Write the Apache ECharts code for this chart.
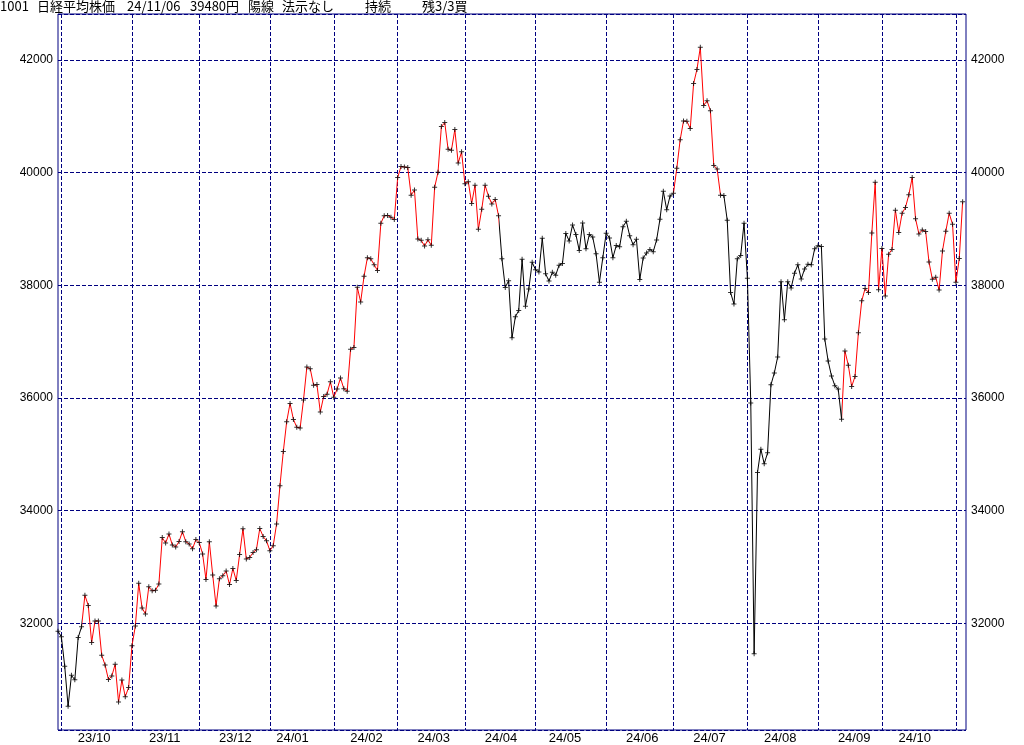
<!DOCTYPE html>
<html>
<head>
<meta charset="utf-8">
<script src="https://cdn.jsdelivr.net/npm/echarts@6/dist/echarts.min.js"></script>
<style>
  html, body { margin: 0; padding: 0; background: #ffffff; }
  #chart { width: 1024px; height: 745px; }
</style>
</head>
<body>
<div id="chart"></div>
<script>
// ---- DATA ----
// Trading days per month (YY/MM, day numbers)
const tradingDays = [
  ["23/09", [29]],
  ["23/10", [2,3,4,5,6,10,11,12,13,16,17,18,19,20,23,24,25,26,27,30,31]],
  ["23/11", [1,2,6,7,8,9,10,13,14,15,16,17,20,21,22,24,27,28,29,30]],
  ["23/12", [1,4,5,6,7,8,11,12,13,14,15,18,19,20,21,22,25,26,27,28,29]],
  ["24/01", [4,5,9,10,11,12,15,16,17,18,19,22,23,24,25,26,29,30,31]],
  ["24/02", [1,2,5,6,7,8,9,13,14,15,16,19,20,21,22,26,27,28,29]],
  ["24/03", [1,4,5,6,7,8,11,12,13,14,15,18,19,21,22,25,26,27,28,29]],
  ["24/04", [1,2,3,4,5,8,9,10,11,12,15,16,17,18,19,22,23,24,25,26,30]],
  ["24/05", [1,2,7,8,9,10,13,14,15,16,17,20,21,22,23,24,27,28,29,30,31]],
  ["24/06", [3,4,5,6,7,10,11,12,13,14,17,18,19,20,21,24,25,26,27,28]],
  ["24/07", [1,2,3,4,5,8,9,10,11,12,16,17,18,19,22,23,24,25,26,29,30,31]],
  ["24/08", [1,2,5,6,7,8,9,13,14,15,16,19,20,21,22,23,26,27,28,29,30]],
  ["24/09", [2,3,4,5,6,9,10,11,12,13,17,18,19,20,24,25,26,27,30]],
  ["24/10", [1,2,3,4,7,8,9,10,11,15,16,17,18,21,22,23,24,25,28,29,30,31]],
  ["24/11", [1,5,6]]
];

// Daily closes, in the same order as the trading days above
const closes = [
  31857,
  31760,31238,30527,31075,30995,31747,31936,32495,32316,31659,32040,32042,31431,31259,31000,31062,31270,30602,30992,30697,30859,
  31602,31950,32708,32272,32166,32646,32575,32585,32696,33520,33424,33585,33388,33354,33452,33626,33448,33408,33321,33487,
  33432,33231,32776,33446,32858,32308,32792,32843,32926,32686,32971,32759,33219,33676,33140,33169,33254,33306,33681,33540,33464,
  33288,33377,33763,34442,35050,35577,35902,35619,35478,35466,35963,36547,36518,36226,36236,35751,36027,36066,36287,
  36011,36158,36354,36161,36120,36863,36897,37964,37703,38158,38487,38470,38364,38262,39099,39234,39240,39208,39166,
  39911,40109,40098,40091,39599,39689,38820,38798,38696,38807,38708,39740,40004,40816,40888,40414,40398,40763,40168,40369,
  39803,39839,39452,39773,38992,39347,39773,39582,39443,39524,39233,38471,37962,38080,37068,37439,37552,38460,37628,37935,38406,
  38274,38236,38835,38202,38074,38229,38179,38356,38386,38920,38787,39070,38900,38617,39103,38646,38900,38855,38557,38054,38488,
  38923,38837,38490,38704,38684,39038,39135,38877,38720,38815,38102,38482,38571,38633,38596,38805,39173,39667,39342,39583,
  39631,40075,40581,40914,40912,40781,41580,41832,42224,41191,41275,41098,40126,40064,39599,39594,39155,37870,37667,38469,38526,39102,
  38126,35910,31458,34675,35090,34831,35025,36233,36442,36727,38063,37389,38063,37952,38211,38364,38110,38289,38372,38363,38648,
  38701,38686,37048,36657,36391,36216,36159,35620,36833,36582,36203,36380,37155,37724,37941,37870,38926,39830,37920,
  38652,37809,38552,38636,39333,38938,39278,39381,39606,39911,39180,38911,38982,38955,38412,38105,38143,37914,38606,38960,39277,39081,
  38054,38475,39481
];

// Periods where the signal is "buy" (line drawn red), first and last day
const buyPeriods = [
  ["23/10/11", "24/04/15"],
  ["24/07/01", "24/07/22"],
  ["24/09/11", "24/11/06"]
];

// Month labels shown under the x axis
const monthLabels = ["23/10","23/11","23/12","24/01","24/02","24/03","24/04","24/05","24/06","24/07","24/08","24/09","24/10"];

// Header texts
const headerTexts = ["1001", "日経平均株価", "24/11/06", "39480円", "陽線", "法示なし", "持続", "残3/3買"];

// Y axis range as drawn
const yRange = [30105, 42815];
const yStep = 2000;

// ---- LAYOUT / STYLE ----
const headerX = [0, 37, 127, 190, 248, 282, 365, 422];
const NAVY = '#000080';

// ---- BUILD ----
const dates = [];
tradingDays.forEach(([ym, days]) => days.forEach(d => dates.push(ym + '/' + String(d).padStart(2, '0'))));
const categories = dates.concat(['']); // one empty slot at the right edge

const monthStart = new Set();
for (let i = 1; i < dates.length; i++) {
  if (dates[i].slice(0, 5) !== dates[i - 1].slice(0, 5)) monthStart.add(i);
}
const labelIndex = new Map();
monthLabels.forEach(m => {
  const idx = dates.findIndex(d => d.slice(0, 5) === m && parseInt(d.slice(6), 10) >= 15);
  if (idx >= 0) labelIndex.set(idx, m);
});

const pieces = buyPeriods.map(([a, b]) => ({
  gte: dates.indexOf(a), lte: dates.indexOf(b), color: '#ff0000'
}));

const chart = echarts.init(document.getElementById('chart'), null, { renderer: 'canvas' });

const yLabel = {
  showMinLabel: false, showMaxLabel: false,
  color: '#000000', fontSize: 12, margin: 5,
  fontFamily: 'Liberation Sans, Arial, sans-serif',
  formatter: (v) => String(Math.round(v))
};

const option = {
  animation: false,
  backgroundColor: '#ffffff',
  textStyle: { fontFamily: 'Liberation Sans, Arial, sans-serif' },
  graphic: headerTexts.map((t, i) => ({
    type: 'text',
    left: headerX[i],
    top: 0,
    style: {
      text: t,
      fill: '#000000',
      font: '13px "Noto Sans CJK JP", sans-serif'
    }
  })),
  grid: {
    left: 58, right: 58, top: 14, bottom: 15,
    show: true,
    borderColor: NAVY,
    borderWidth: 1,
    backgroundColor: 'transparent'
  },
  visualMap: {
    show: false,
    type: 'piecewise',
    seriesIndex: 0,
    dimension: 0,
    pieces: pieces,
    outOfRange: { color: '#000000' }
  },
  xAxis: {
    type: 'category',
    data: categories,
    boundaryGap: false,
    axisLine: { show: false },
    axisTick: { show: false },
    axisLabel: {
      interval: (i) => labelIndex.has(i),
      formatter: (v, i) => labelIndex.get(i) || '',
      color: '#000000',
      fontSize: 13,
      margin: 2,
      padding: [0, 0, 0, 5],
      fontFamily: 'Liberation Sans, Arial, sans-serif'
    },
    splitLine: {
      show: true,
      interval: (i) => monthStart.has(i),
      lineStyle: { color: NAVY, type: [4, 2], width: 1 }
    }
  },
  yAxis: [
    {
      type: 'value',
      min: yRange[0], max: yRange[1],
      minInterval: yStep, maxInterval: yStep,
      axisLine: { show: false },
      axisTick: { show: false },
      axisLabel: yLabel,
      splitLine: { show: true, lineStyle: { color: NAVY, type: [4, 2], width: 1 } }
    },
    {
      type: 'value',
      position: 'right',
      min: yRange[0], max: yRange[1],
      minInterval: yStep, maxInterval: yStep,
      axisLine: { show: false },
      axisTick: { show: false },
      axisLabel: yLabel,
      splitLine: { show: false }
    }
  ],
  series: [
    {
      type: 'line',
      data: closes,
      showSymbol: false,
      symbol: 'none',
      lineStyle: { width: 1 },
      silent: true,
      z: 2
    },
    {
      type: 'scatter',
      data: closes,
      symbol: 'path://M2 0h1v2h2v1h-2v2h-1v-2h-2v-1h2z',
      symbolSize: 5,
      itemStyle: { color: '#000000' },
      silent: true,
      z: 3
    }
  ]
};

chart.setOption(option);
</script>
</body>
</html>
